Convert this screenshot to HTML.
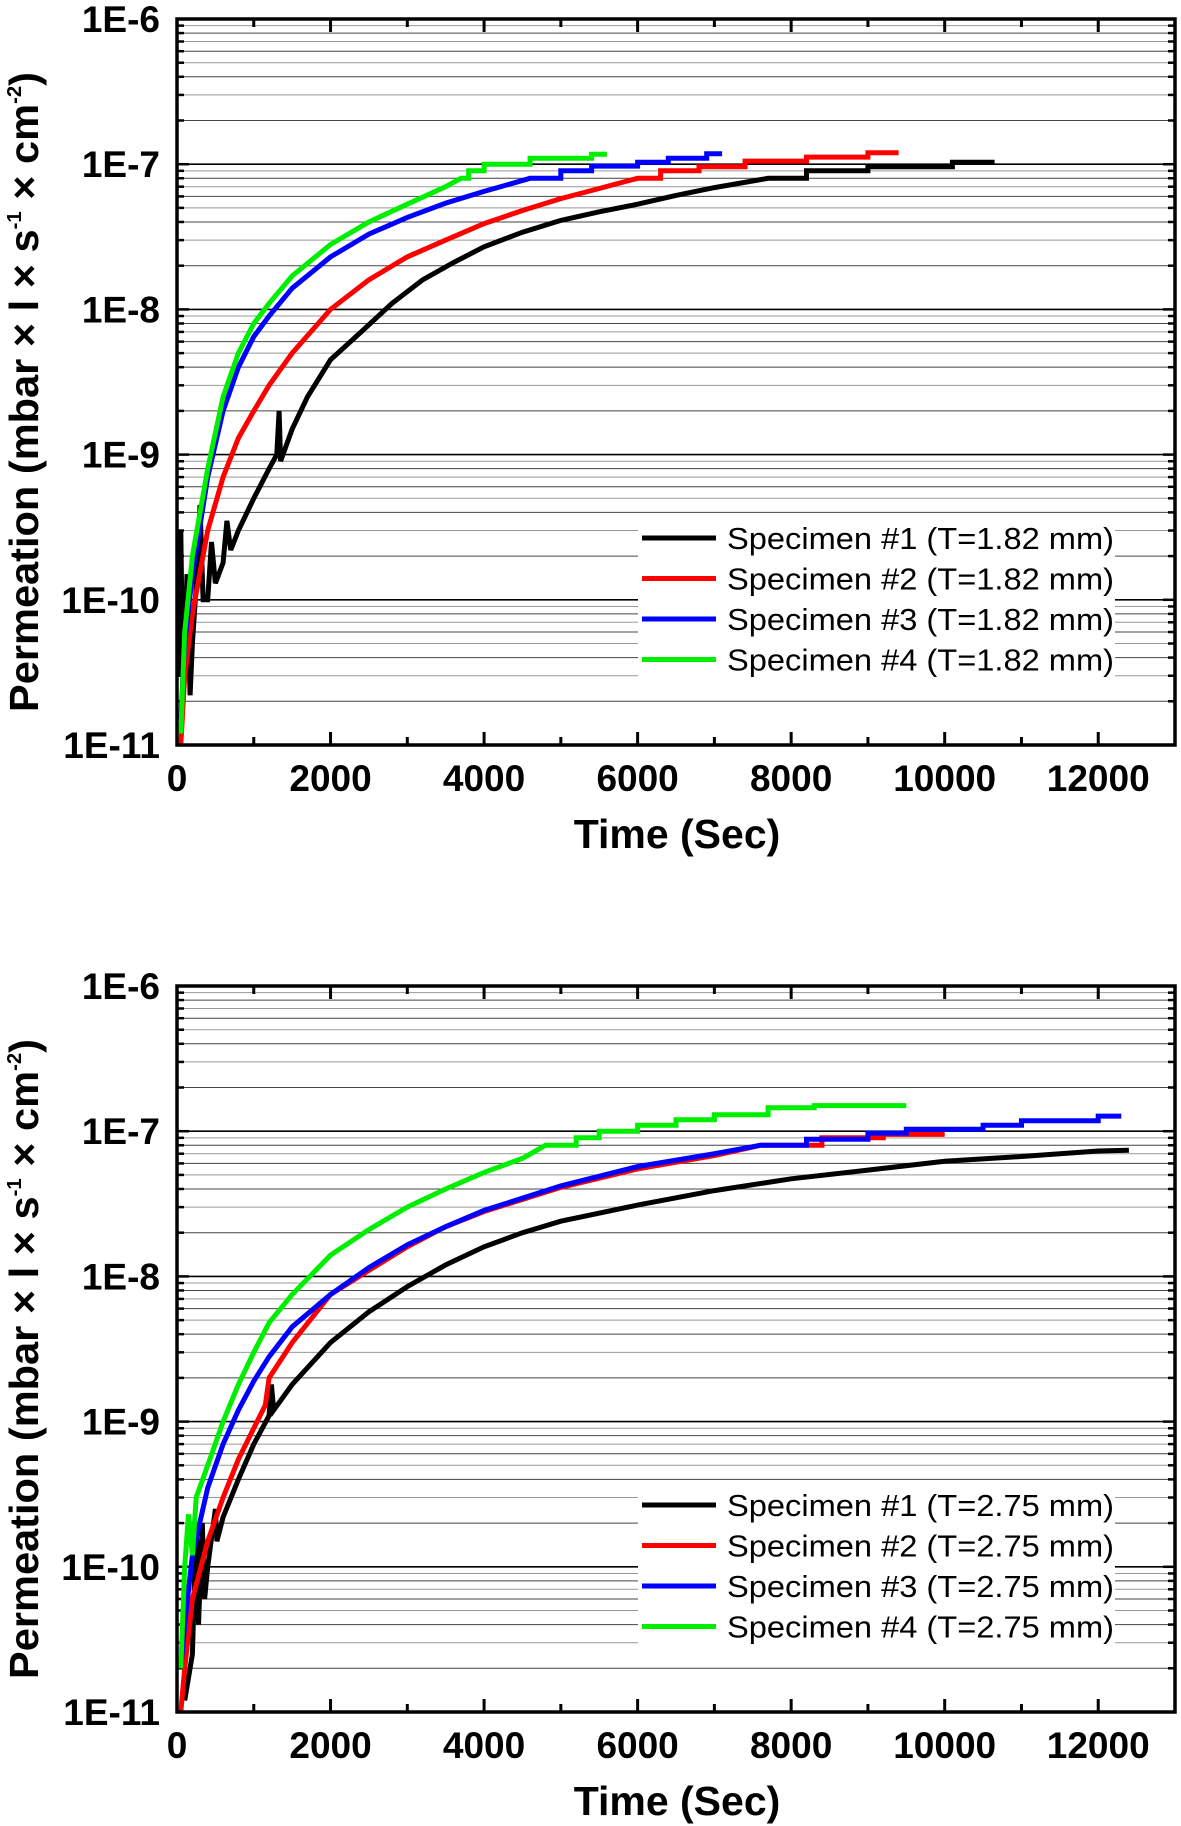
<!DOCTYPE html>
<html><head><meta charset="utf-8"><style>
html,body{margin:0;padding:0;background:#fff;}
svg{display:block;font-family:"Liberation Sans",Arial,sans-serif;}
</style></head><body>
<svg id="chart" width="1181" height="1826" viewBox="0 0 1181 1826" xmlns="http://www.w3.org/2000/svg"></svg>
<script>
// ---- data (time in s, permeation in mbar·l·s^-1·cm^-2) ----
const xTicks = [0,2000,4000,6000,8000,10000,12000];
const yTickLabels = ["1E-6","1E-7","1E-8","1E-9","1E-10","1E-11"];
const yTickExps = [-6,-7,-8,-9,-10,-11];
const seriesNames = ["Specimen #1","Specimen #2","Specimen #3","Specimen #4"];
const seriesColors = ["#000000","#ff0000","#0000ff","#00ee00"];
const topThickness = "T=1.82 mm";
const botThickness = "T=2.75 mm";

const topS1 = [[30,3e-11],[50,3e-10],[80,2e-11],[130,1.5e-10],[170,2.2e-11],[200,5e-11],[260,1.5e-10],[300,4.5e-10],[340,1e-10],[400,1e-10],[450,2.5e-10],[500,1.3e-10],[600,1.8e-10],[650,3.5e-10],[700,2.2e-10],[800,3e-10],[1000,5e-10],[1200,8e-10],[1300,1e-9],[1330,2e-9],[1350,9e-10],[1500,1.5e-9],[1700,2.5e-9],[2000,4.5e-9],[2400,7e-9],[2800,1.1e-8],[3200,1.6e-8],[3600,2.1e-8],[4000,2.7e-8],[4500,3.4e-8],[5000,4.1e-8],[5500,4.7e-8],[6000,5.3e-8],[6500,6.1e-8],[7000,6.9e-8],[7700,8e-8],[8200,8e-8],[8200,9e-8],[9000,9e-8],[9000,9.6e-8],[10100,9.6e-8],[10100,1.03e-7],[10650,1.03e-7]];
const topS2 = [[50,1e-11],[100,3e-11],[200,8e-11],[400,3e-10],[600,7e-10],[800,1.3e-9],[1000,2e-9],[1200,3e-9],[1500,5e-9],[2000,1e-8],[2500,1.6e-8],[3000,2.3e-8],[3500,3e-8],[4000,3.9e-8],[4500,4.8e-8],[5000,5.8e-8],[5500,6.8e-8],[6000,8e-8],[6300,8e-8],[6300,9e-8],[6800,9e-8],[6800,9.6e-8],[7400,9.6e-8],[7400,1.05e-7],[8200,1.05e-7],[8200,1.12e-7],[9000,1.12e-7],[9000,1.2e-7],[9400,1.2e-7]];
const topS3 = [[50,1.5e-11],[100,5e-11],[200,1.5e-10],[400,7e-10],[600,2e-9],[800,4e-9],[1000,6.5e-9],[1200,9e-9],[1500,1.4e-8],[2000,2.3e-8],[2500,3.3e-8],[3000,4.3e-8],[3500,5.4e-8],[4000,6.5e-8],[4600,8e-8],[5000,8e-8],[5000,9e-8],[5400,9e-8],[5400,9.7e-8],[6000,9.7e-8],[6000,1.03e-7],[6400,1.03e-7],[6400,1.1e-7],[6900,1.1e-7],[6900,1.18e-7],[7100,1.18e-7]];
const topS4 = [[50,1.2e-11],[100,6e-11],[200,2e-10],[400,8e-10],[600,2.5e-9],[800,5e-9],[1000,8e-9],[1200,1.1e-8],[1500,1.7e-8],[2000,2.8e-8],[2500,4e-8],[3000,5.3e-8],[3500,7e-8],[3700,8e-8],[3800,8e-8],[3800,9e-8],[4000,9e-8],[4000,1e-7],[4600,1e-7],[4600,1.1e-7],[5400,1.1e-7],[5400,1.17e-7],[5600,1.17e-7]];

const botS1 = [[100,1.2e-11],[200,2.5e-11],[250,2e-10],[280,4e-11],[330,2e-10],[360,6e-11],[400,1e-10],[500,2.5e-10],[520,1.5e-10],[600,2.2e-10],[800,4e-10],[1000,7e-10],[1200,1.1e-9],[1230,1.8e-9],[1260,1.2e-9],[1500,1.8e-9],[2000,3.5e-9],[2500,5.7e-9],[3000,8.5e-9],[3500,1.2e-8],[4000,1.6e-8],[4500,2e-8],[5000,2.4e-8],[6000,3.1e-8],[7000,3.9e-8],[8000,4.7e-8],[9000,5.4e-8],[10000,6.2e-8],[11000,6.7e-8],[12000,7.3e-8],[12400,7.4e-8]];
const botS2 = [[50,1e-11],[100,2e-11],[200,6e-11],[400,1.5e-10],[600,3e-10],[800,5.5e-10],[1000,9e-10],[1150,1.3e-9],[1200,2e-9],[1500,3.5e-9],[2000,7.5e-9],[2500,1.1e-8],[3000,1.6e-8],[3500,2.2e-8],[4000,2.8e-8],[5000,4.1e-8],[6000,5.5e-8],[7000,6.8e-8],[7600,8e-8],[8400,8e-8],[8400,9e-8],[9200,9e-8],[9200,9.5e-8],[10000,9.5e-8]];
const botS3 = [[50,2e-11],[100,4e-11],[200,1.2e-10],[400,3.5e-10],[600,7e-10],[800,1.2e-9],[1000,1.9e-9],[1200,2.8e-9],[1500,4.5e-9],[2000,7.5e-9],[2500,1.15e-8],[3000,1.65e-8],[3500,2.2e-8],[4000,2.85e-8],[5000,4.2e-8],[6000,5.7e-8],[7000,7e-8],[7600,8e-8],[8200,8e-8],[8200,8.8e-8],[9000,8.8e-8],[9000,9.7e-8],[9500,9.7e-8],[9500,1.03e-7],[10500,1.03e-7],[10500,1.1e-7],[11000,1.1e-7],[11000,1.18e-7],[12000,1.18e-7],[12000,1.27e-7],[12300,1.27e-7]];
const botS4 = [[50,2e-11],[100,1e-10],[150,2.3e-10],[200,1.2e-10],[250,3e-10],[400,5e-10],[600,1e-9],[800,1.8e-9],[1000,3e-9],[1200,4.8e-9],[1500,7.5e-9],[2000,1.4e-8],[2500,2.1e-8],[3000,3e-8],[3500,4e-8],[4000,5.2e-8],[4500,6.5e-8],[4800,8e-8],[5200,8e-8],[5200,9e-8],[5500,9e-8],[5500,1e-7],[6000,1e-7],[6000,1.1e-7],[6500,1.1e-7],[6500,1.2e-7],[7000,1.2e-7],[7000,1.3e-7],[7700,1.3e-7],[7700,1.45e-7],[8300,1.45e-7],[8300,1.5e-7],[9500,1.5e-7]];

const NS = "http://www.w3.org/2000/svg";
const svg = document.getElementById('chart');
function mk(tag, attrs, parent){
  const e = document.createElementNS(NS, tag);
  for (const k in attrs) e.setAttribute(k, attrs[k]);
  (parent||svg).appendChild(e);
  return e;
}

function drawPanel(cfg){
  const L=177, R=1175, T=cfg.top, B=cfg.bottom;
  const xMin=0, xMax=13000, yMinE=-11, yMaxE=-6;
  const xs = v => L + (v-xMin)/(xMax-xMin)*(R-L);
  const ys = v => B - (Math.log10(v)-yMinE)/(yMaxE-yMinE)*(B-T);
  const g = mk('g', {});
  
  

  const lgL=638, lgR=1115, lgT=T+500, lgB=T+663;

  const grid = mk('g', {}, g);
  
  
  for (let e=yMinE; e<yMaxE; e++){
    for (let m=1; m<=9; m++){
      const v = m*Math.pow(10,e);
      if (m===1 && e===yMinE) continue;
      const y = ys(v);
      const isMajor = m===1;
      const ln = mk('line', {x1:L, x2:R, y1:y, y2:y, stroke: isMajor?'#000':(m%2?'#999':'#444'), 'stroke-width': isMajor?1.6:1}, grid);
      
      
      mk('line', {x1:L, x2:L+(isMajor?12:7), y1:y, y2:y, stroke:'#000','stroke-width':2.5}, grid);
      mk('line', {x1:R, x2:R-(isMajor?12:7), y1:y, y2:y, stroke:'#000','stroke-width':2.5}, grid);
    }
  }

  const series = [cfg.s1,cfg.s2,cfg.s3,cfg.s4];
  series.forEach((pts,i)=>{
    const d = pts.map((p,j)=>(j?'L':'M')+xs(p[0]).toFixed(1)+','+ys(p[1]).toFixed(1)).join(' ');
    const path = mk('path', {d:d, fill:'none', stroke:seriesColors[i], 'stroke-width':5, 'stroke-linejoin':'miter'}, g);
    
    
  });

  const lg = mk('g', {}, g);
  
  
  mk('rect', {x:lgL, y:lgT, width:lgR-lgL, height:lgB-lgT, fill:'#fff'}, lg);
  seriesNames.forEach((n,i)=>{
    const cy = lgT + 19 + i*40.5;
    const ent = mk('g', {}, lg);
    
    
    mk('line', {x1:642, x2:716, y1:cy, y2:cy, stroke:seriesColors[i], 'stroke-width':5}, ent);
    const t = mk('text', {x:727, y:cy+11, 'font-size':31, fill:'#000', textLength:387, lengthAdjust:'spacingAndGlyphs'}, ent);
    t.textContent = n + ' (' + cfg.thick + ')';
  });

  for (let v=0; v<=13000; v+=1000){
    const x = xs(v), major = v%2000===0;
    mk('line', {x1:x, x2:x, y1:B, y2:B-(major?13:8), stroke:'#000','stroke-width':3}, g);
    mk('line', {x1:x, x2:x, y1:T, y2:T+(major?13:8), stroke:'#000','stroke-width':3}, g);
  }
  xTicks.forEach(v=>{
    const t = mk('text', {x:xs(v), y:B+46, 'font-size':37, 'font-weight':'bold', 'text-anchor':'middle', fill:'#000'}, g);
    
    
    t.textContent = v;
  });
  yTickExps.forEach((e,i)=>{
    const t = mk('text', {x:160, y:ys(Math.pow(10,e))+13, 'font-size':37, 'font-weight':'bold', 'text-anchor':'end', fill:'#000'}, g);
    
    
    t.textContent = yTickLabels[i];
  });

  const fr = mk('rect', {x:L, y:T, width:R-L, height:B-T, fill:'none', stroke:'#000', 'stroke-width':3.5}, g);
  
  

  const xt = mk('text', {x:677, y:B+103, 'font-size':41, 'font-weight':'bold', 'text-anchor':'middle', fill:'#000'}, g);
  
  
  xt.textContent = 'Time (Sec)';
  const cy = (T+B)/2 + 10;
  const yt = mk('text', {x:0, y:0, transform:'translate(38,'+cy+') rotate(-90)', 'font-size':41, 'font-weight':'bold', 'text-anchor':'middle', fill:'#000', textLength:640, lengthAdjust:'spacingAndGlyphs'}, g);
  
  
  yt.innerHTML = 'Permeation (mbar × l × s<tspan font-size="20" dy="-17">-1</tspan><tspan dy="17"> × cm</tspan><tspan font-size="20" dy="-17">-2</tspan><tspan dy="17">)</tspan>';
}

drawPanel({name:'top-chart', top:19, bottom:745, s1:topS1, s2:topS2, s3:topS3, s4:topS4, thick:topThickness});
drawPanel({name:'bottom-chart', top:986, bottom:1712, s1:botS1, s2:botS2, s3:botS3, s4:botS4, thick:botThickness});
</script>
</body></html>
